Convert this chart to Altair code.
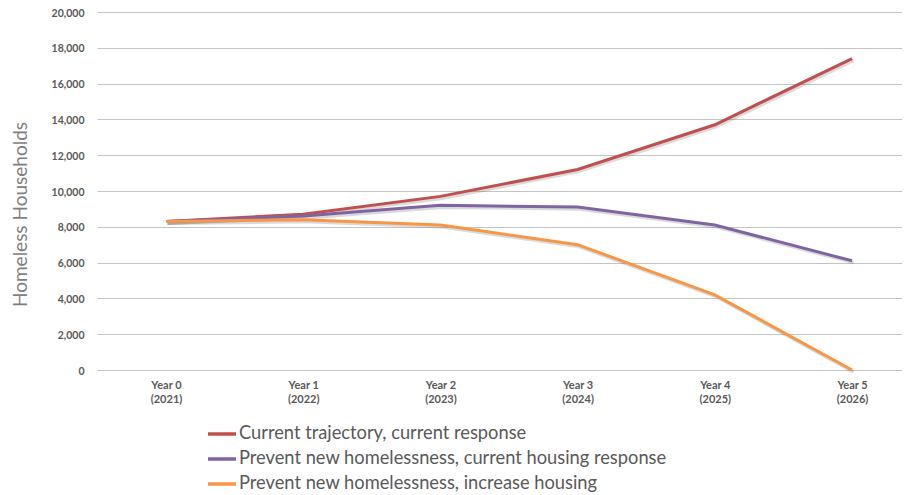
import altair as alt
import pandas as pd

years = ["Year 0", "Year 1", "Year 2", "Year 3", "Year 4", "Year 5"]
year_nums = ["(2021)", "(2022)", "(2023)", "(2024)", "(2025)", "(2026)"]
series_names = [
    "Current trajectory, current response",
    "Prevent new homelessness, current housing response",
    "Prevent new homelessness, increase housing",
]
current_trajectory = [8300, 8700, 9700, 11200, 13700, 17400]
prevent_current_housing = [8300, 8600, 9200, 9100, 8100, 6100]
prevent_increase_housing = [8300, 8400, 8100, 7000, 4200, 0]
colors = ["#C0504D", "#8064A2", "#F79646"]

categories = [f"{y}\n{n}" for y, n in zip(years, year_nums)]
rows = []
for si, (name, vals) in enumerate(zip(series_names, [current_trajectory, prevent_current_housing, prevent_increase_housing])):
    for c, v in zip(categories, vals):
        rows.append({"period": c, "series": name, "value": v})
df = pd.DataFrame(rows)

FONT = "Lato"

x_enc = alt.X(
    "period:N",
    sort=categories,
    scale=alt.Scale(type="point", padding=0.4335, align=0.58),
    axis=alt.Axis(
        title=None, labelAngle=0, domain=False, ticks=False,
        labelExpr="split(datum.label, '\\n')",
        labelFont=FONT, labelFontSize=11, labelFontWeight="bold",
        labelColor="#595959", labelPadding=9, labelLineHeight=14, grid=False,
    ),
)
y_enc = alt.Y(
    "value:Q",
    scale=alt.Scale(domain=[0, 20000], nice=False),
    axis=alt.Axis(
        title="Homeless Households", values=list(range(0, 20001, 2000)),
        format=",d", domain=False, ticks=False, labelPadding=13, labelOffset=1,
        labelFont=FONT, labelFontSize=10.5, labelFontWeight="bold", labelColor="#595959",
        gridColor="#c4c4c4", gridWidth=1.2,
        titleFont=FONT, titleFontSize=19, titleFontWeight="normal", titleColor="#7f7f7f",
        titleX=-71, titleY=202, titleAlign="center", titleBaseline="alphabetic", titleAngle=-90,
    ),
)

shadow = alt.Chart(df).mark_line(strokeWidth=3.2, color="#555555", opacity=0.22, xOffset=1.5, yOffset=2).encode(
    x=x_enc, y=y_enc, detail="series:N"
)

lines = alt.Chart(df).mark_line(strokeWidth=3).encode(
    x=x_enc,
    y=y_enc,
    color=alt.Color(
        "series:N",
        sort=series_names,
        scale=alt.Scale(domain=series_names, range=colors),
        legend=alt.Legend(
            title=None, orient="none", legendX=109, legendY=406, direction="vertical",
            symbolType="stroke", symbolSize=784, symbolStrokeWidth=3.5,
            labelFont=FONT, labelFontSize=18.3, labelColor="#595959", rowPadding=0,
            labelLimit=800, symbolOffset=0, labelOffset=1, padding=0,
        ),
    ),
)

chart = (shadow + lines).properties(
    width=805, height=358,
    autosize=alt.AutoSizeParams(type="none"),
    padding={"left": 89, "top": 4, "right": 0, "bottom": 125},
).configure_view(stroke=None)

chart.save("out.html", embed_options={"renderer": "svg", "actions": False})
